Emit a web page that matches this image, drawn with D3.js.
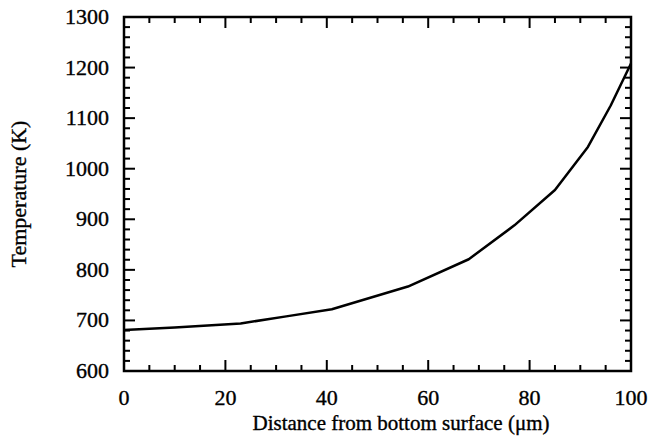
<!DOCTYPE html>
<html>
<head>
<meta charset="utf-8">
<script src="https://cdn.jsdelivr.net/npm/d3@7"></script>
<style>
  body { margin: 0; background: #fff; }
  text { font-family: "Liberation Serif", "DejaVu Serif", serif; fill: #000; stroke: #000; stroke-width: 0.35px; }
</style>
</head>
<body>
<div id="chart"></div>
<script>
// values
var distance = [0, 10, 23, 32, 41, 56, 68, 77, 85, 91.5, 96, 100];
var temperature = [681, 686, 694, 708, 722, 767, 821, 888, 958, 1043, 1125, 1208];
var xTicks = [0, 20, 40, 60, 80, 100];
var yTicks = [600, 700, 800, 900, 1000, 1100, 1200, 1300];

var width = 652, height = 438;
var plotLeft = 124, plotRight = 631, plotTop = 17, plotBottom = 371;

var svg = d3.select("#chart").append("svg")
  .attr("width", width)
  .attr("height", height);

var x = d3.scaleLinear().domain([0, 100]).range([plotLeft, plotRight]);
var y = d3.scaleLinear().domain([600, 1300]).range([plotBottom, plotTop]);

/* ticks, all pointing inward, on every side */
var xMinor = d3.range(0, 101, 5);
var yMinor = d3.range(600, 1301, 20);

function tickLine(x1, y1, x2, y2) {
  svg.append("line")
    .attr("x1", x1).attr("y1", y1)
    .attr("x2", x2).attr("y2", y2)
    .attr("stroke", "#000")
    .attr("stroke-width", 2);
}

xMinor.forEach(function(v) {
  var len = xTicks.indexOf(v) >= 0 ? 11 : 6;
  tickLine(x(v), plotBottom, x(v), plotBottom - len);
  tickLine(x(v), plotTop, x(v), plotTop + len);
});
yMinor.forEach(function(v) {
  var len = yTicks.indexOf(v) >= 0 ? 11 : 6;
  tickLine(plotLeft, y(v), plotLeft + len, y(v));
  tickLine(plotRight, y(v), plotRight - len, y(v));
});

// frame
svg.append("rect")
  .attr("x", plotLeft).attr("y", plotTop)
  .attr("width", plotRight - plotLeft).attr("height", plotBottom - plotTop)
  .attr("fill", "none")
  .attr("stroke", "#000")
  .attr("stroke-width", 2.5);

// tick labels
svg.selectAll("text.xlab")
  .data(xTicks)
  .enter()
  .append("text")
  .attr("class", "xlab")
  .attr("x", function(d) { return x(d); })
  .attr("y", 405)
  .attr("text-anchor", "middle")
  .attr("font-size", 22)
  .text(function(d) { return d; });

svg.selectAll("text.ylab")
  .data(yTicks)
  .enter()
  .append("text")
  .attr("class", "ylab")
  .attr("x", plotLeft - 15)
  .attr("y", function(d) { return y(d) + 7; })
  .attr("text-anchor", "end")
  .attr("font-size", 22)
  .text(function(d) { return d; });

// axis titles
svg.append("text")
  .attr("x", 401)
  .attr("y", 430)
  .attr("text-anchor", "middle")
  .attr("font-size", 21)
  .text("Distance from bottom surface (\u03bcm)");

svg.append("text")
  .attr("transform", "translate(26," + (plotTop + plotBottom) / 2 + ") rotate(-90)")
  .attr("text-anchor", "middle")
  .attr("font-size", 22)
  .text("Temperature (K)");

// the curve
var line = d3.line()
  .x(function(d, i) { return x(distance[i]); })
  .y(function(d) { return y(d); });

svg.append("path")
  .datum(temperature)
  .attr("d", line)
  .attr("fill", "none")
  .attr("stroke", "#000")
  .attr("stroke-width", 2.5)
  .attr("stroke-linejoin", "round");
</script>
</body>
</html>
